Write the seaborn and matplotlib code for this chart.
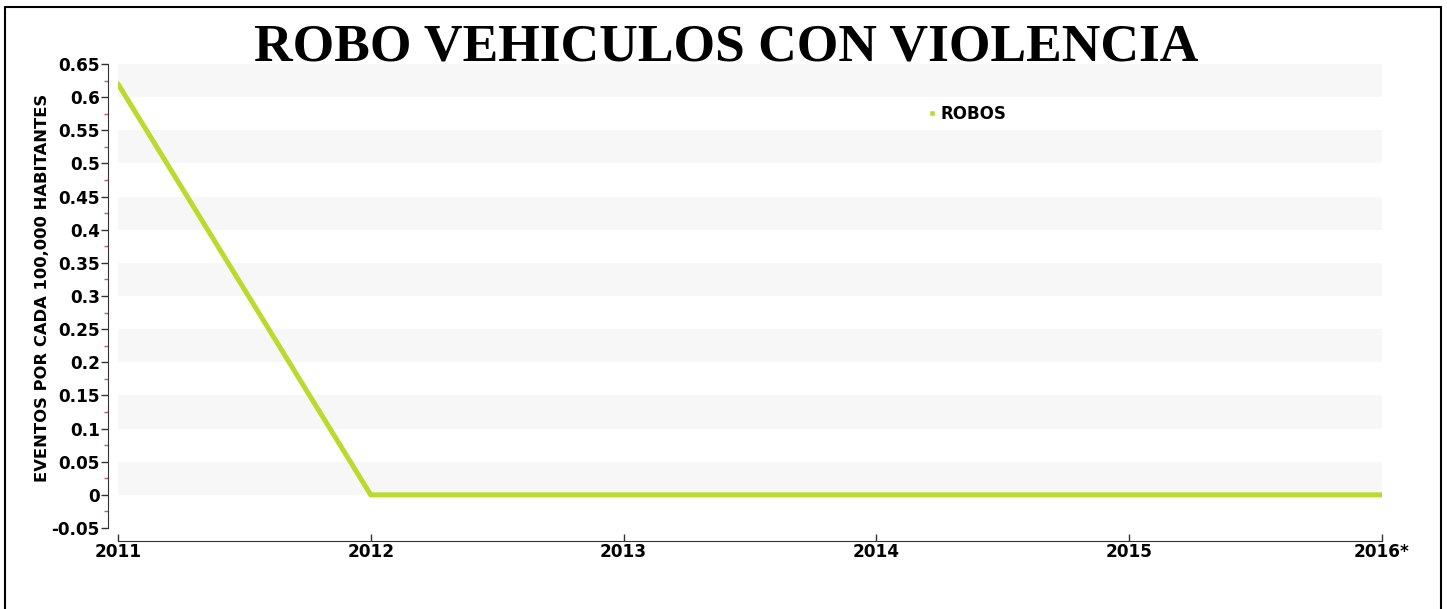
import seaborn as sns
import matplotlib.pyplot as plt
import pandas as pd
from matplotlib.lines import Line2D
from matplotlib.ticker import MultipleLocator

# Datos del grafico
anios = [2011, 2012, 2013, 2014, 2015, 2016]
etiquetas = ['2011', '2012', '2013', '2014', '2015', '2016*']
robos = [0.62, 0.0, 0.0, 0.0, 0.0, 0.0]
yticks = [-0.05, 0, 0.05, 0.1, 0.15, 0.2, 0.25, 0.3, 0.35, 0.4, 0.45, 0.5, 0.55, 0.6, 0.65]

datos = pd.DataFrame({'Año': anios, 'ROBOS': robos})

sns.set_style("white")
plt.rcParams['font.family'] = ['DejaVu Sans']
plt.rcParams['font.weight'] = 'bold'
plt.rcParams['text.color'] = 'black'
plt.rcParams['axes.labelcolor'] = 'black'
plt.rcParams['xtick.color'] = 'black'
plt.rcParams['ytick.color'] = 'black'

fig = plt.figure(figsize=(14.47, 6.09), dpi=100)
ax = fig.add_axes([0.0815, 0.133, 0.8735, 0.762])

# bandas grises alternadas
for i in range(7):
    ax.axhspan(i * 0.1, i * 0.1 + 0.05, color='#f7f7f7', zorder=0, lw=0)

sns.lineplot(data=datos, x='Año', y='ROBOS', color='#bcd92e', linewidth=3.6, ax=ax, legend=False)

ax.set_xlim(2011, 2016)
ax.set_ylim(-0.05, 0.65)
ax.set_xticks(anios)
ax.set_xticklabels(etiquetas)
ax.set_yticks(yticks)
ax.set_yticklabels([f'{v:g}' for v in yticks])
ax.yaxis.set_minor_locator(MultipleLocator(0.025))
ax.tick_params(axis='y', which='major', length=5, width=1, color='#333333', pad=1, direction='out',
               left=True, labelsize=12.2, labelcolor='black')
ax.tick_params(axis='y', which='minor', length=3, width=1, color='#e05050', left=True)
ax.tick_params(axis='x', which='major', length=5, width=1, color='#333333', pad=2, direction='in',
               bottom=True, labelsize=12.2, labelcolor='black')
for lbl in ax.get_xticklabels() + ax.get_yticklabels():
    lbl.set_fontweight('bold')
ax.set_xlabel('')
ax.set_ylabel('EVENTOS POR CADA 100,000 HABITANTES', fontsize=11.8, fontweight='bold')
ax.yaxis.set_label_coords(-0.0538, 0.517)

sns.despine(ax=ax)
ax.spines['left'].set_position(('outward', 7))
ax.spines['bottom'].set_position(('outward', 9))
ax.spines['left'].set_color('#333333')
ax.spines['bottom'].set_color('#333333')

leyenda = [Line2D([0], [0], marker='s', color='w', markerfacecolor='#bcd92e', markersize=5, label='ROBOS')]
ax.legend(handles=leyenda, loc='center left', bbox_to_anchor=(0.6255, 0.892), frameon=False,
          prop={'weight': 'bold', 'size': 12}, handletextpad=0.0, handlelength=1.0, labelcolor='black')

fig.text(0.502, 0.922, 'ROBO VEHICULOS CON VIOLENCIA', ha='center', va='center', color='black',
         fontsize=38.5, fontweight='bold', family='Liberation Serif')

# marco de la figura
fig.add_artist(Line2D([5 / 1447, 5 / 1447], [0, 1 - 7 / 609], color='black', lw=1.5))
fig.add_artist(Line2D([5 / 1447, 1441 / 1447], [1 - 7 / 609, 1 - 7 / 609], color='black', lw=1.5))
fig.add_artist(Line2D([1441 / 1447, 1441 / 1447], [0, 1 - 7 / 609], color='black', lw=1.5))

fig.savefig('out.png', dpi=100)
